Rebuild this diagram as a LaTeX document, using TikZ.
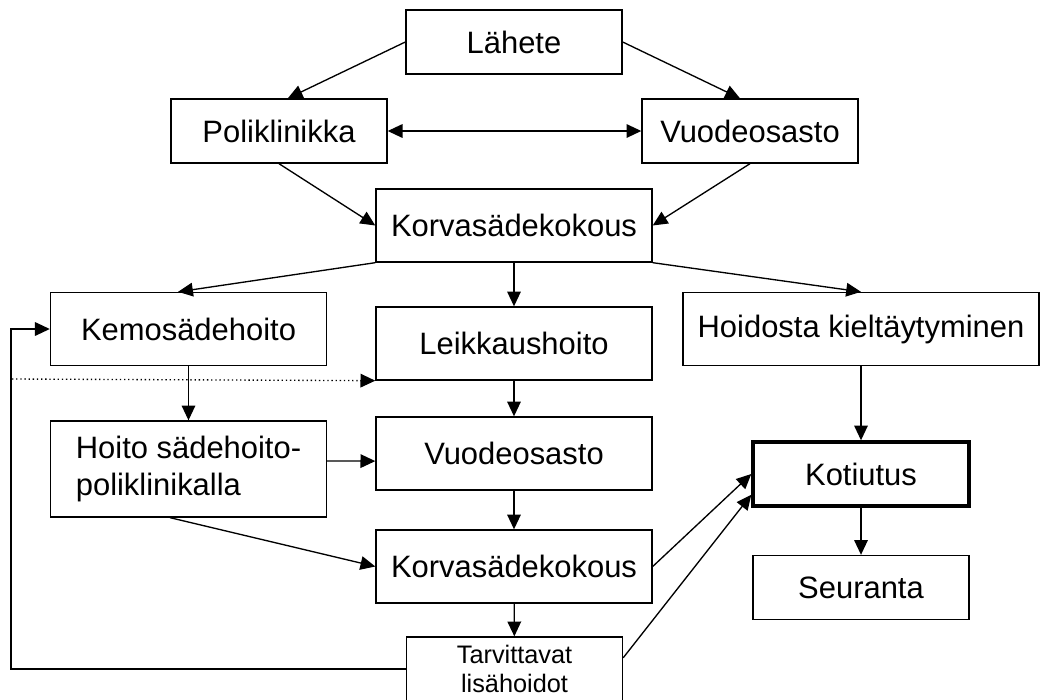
\documentclass[tikz,border=0pt]{standalone}
\usepackage{fontspec}
\setmainfont{Liberation Sans}
\usetikzlibrary{arrows.meta}
\tikzstyle{box}=[rectangle,draw=black,line width=0.95pt,inner sep=2pt,
  minimum width=6.9cm,minimum height=1.825cm,font=\fontsize{22}{26}\selectfont]
\tikzstyle{sbox}=[box,minimum width=5.4cm,minimum height=1.6cm]

\begin{document}
\begin{tikzpicture}[x=0.025cm,y=-0.025cm,line width=0.95pt,
    >={Triangle[length=0.37cm,width=0.34cm]}]
        \useasboundingbox (0,0) rectangle (1040,699);
        \node [style=sbox] (lahete) at (514,42) {Lähete};
        \node [style=sbox] (poli) at (279,131) {Poliklinikka};
        \node [style=sbox] (osasto) at (750,131) {Vuodeosasto};
        \node [style=box] (kokous) at (514,225.5) {Korvasädekokous};
        \node [style=box] (kemo) at (188.5,329) {Kemosädehoito};
        \node [style=box] (leikkaus) at (514,343.5) {Leikkaushoito};
        \node [style=box,minimum width=8.9cm] (kielto) at (861,329) {Hoidosta kieltäytyminen};
        \node [style=box,minimum height=2.4cm,align=left] (hoito) at (188.5,469) {Hoito sädehoito-\\poliklinikalla};
        \node [style=box] (osasto2) at (514,453.5) {Vuodeosasto};
        \node [style=sbox,line width=2.4pt] (kotiutus) at (861,474) {Kotiutus};
        \node [style=box] (kokous2) at (514,566.5) {Korvasädekokous};
        \node [style=sbox] (seuranta) at (861,587.5) {Seuranta};
        \node [style=sbox,align=center,font=\fontsize{18}{21}\selectfont] (lisa) at (514.5,669) {Tarvittavat\\lisähoidot};
        \coordinate (dots) at (12,379);
        \coordinate (back) at (11,669);
        \draw [->] (lahete.west) to ([xshift=0.22cm]poli.north);
        \draw [->] (lahete.east) to ([xshift=-0.25cm]osasto.north);
        \draw [<->] (poli) to (osasto);
        \draw [->] (poli.south) to (kokous.west);
        \draw [->] (osasto.south) to (kokous.east);
        \draw [->] (kokous.south west) to ([xshift=-0.26cm]kemo.north);
        \draw [->] (kokous) to (leikkaus);
        \draw [->] (kokous.south east) to (kielto.north);
        \draw [->,dotted] (dots) to (leikkaus.south west);
        \draw [->] (kemo) to (hoito);
        \draw [->] (lisa.west) -- (back) |- (kemo.west);
        \draw [->] (leikkaus) to (osasto2);
        \draw [->] ([yshift=0.2cm]hoito.east) to ([yshift=-0.19cm]osasto2.west);
        \draw [->] ([xshift=-0.46cm]hoito.south) to (kokous2.west);
        \draw [->] (osasto2) to (kokous2);
        \draw [->] (kokous2) to (lisa);
        \draw [->] (kokous2.east) to (kotiutus.west);
        \draw [->] ([yshift=0.28cm]lisa.east) to ([yshift=-0.52cm]kotiutus.west);
        \draw [->] (kielto) to (kotiutus);
        \draw [->] (kotiutus) to (seuranta);
    \end{tikzpicture}
\end{document}
